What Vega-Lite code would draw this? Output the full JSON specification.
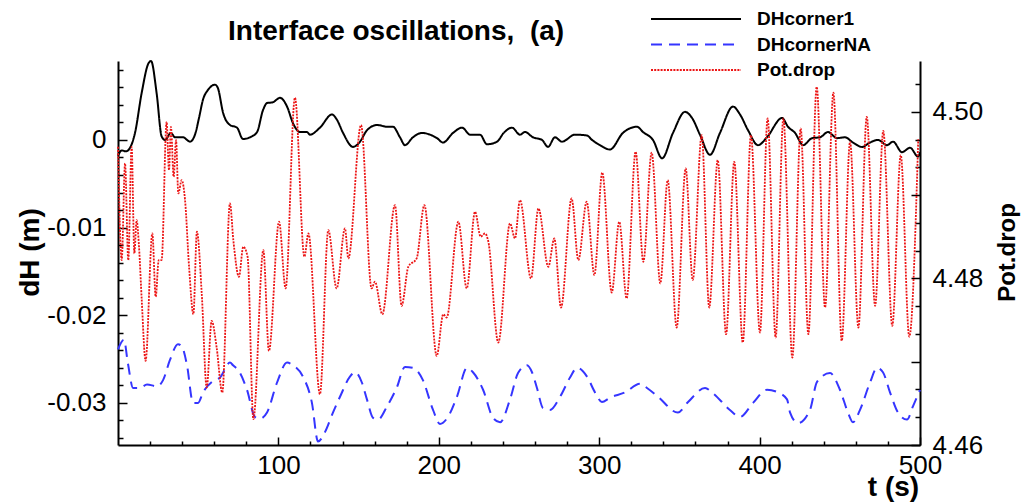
{
"$schema":"https://vega.github.io/schema/vega-lite/v6.json",
"width":802,"height":384,
"autosize":{"type":"none"},
"padding":{"left":118,"top":61,"right":101,"bottom":57},
"background":"white",
"title":{"text":"Interface oscillations, \u00a0(a)","anchor":"start","frame":"group","dx":110,"offset":-60,"fontSize":28,"font":"Liberation Sans","fontWeight":"bold","color":"#000","baseline":"alphabetic"},
"config":{"view":{"stroke":null},"axis":{"grid":false,"domainColor":"#000","domainWidth":2,"tickColor":"#000","tickWidth":1.5,"labelFont":"Liberation Sans","labelFontSize":26,"labelColor":"#000","titleFont":"Liberation Sans","titleFontWeight":"bold","titleColor":"#000","labelOverlap":false,"labelFlush":false}},
"data":{"values":[
{"s":"DHcorner1","t":0,"v":-0.0018},{"s":"DHcorner1","t":2.3,"v":-0.0012},{"s":"DHcorner1","t":5,"v":-0.0013},{"s":"DHcorner1","t":7.5,"v":-0.0009},{"s":"DHcorner1","t":10.6,"v":0.0008},{"s":"DHcorner1","t":14.8,"v":0.0054},{"s":"DHcorner1","t":18.9,"v":0.0087},{"s":"DHcorner1","t":20.6,"v":0.009},{"s":"DHcorner1","t":24.1,"v":0.0053},{"s":"DHcorner1","t":27.2,"v":0.0004},{"s":"DHcorner1","t":29.3,"v":0},
{"s":"DHcorner1","t":33,"v":0.0008},{"s":"DHcorner1","t":35.5,"v":0.0003},{"s":"DHcorner1","t":40.5,"v":0.0003},{"s":"DHcorner1","t":44.9,"v":-0.0002},{"s":"DHcorner1","t":48,"v":0.0006},{"s":"DHcorner1","t":50.5,"v":0.0025},{"s":"DHcorner1","t":53,"v":0.0046},{"s":"DHcorner1","t":56.1,"v":0.0057},{"s":"DHcorner1","t":60.5,"v":0.0063},{"s":"DHcorner1","t":62.3,"v":0.0059},{"s":"DHcorner1","t":65.5,"v":0.0031},{"s":"DHcorner1","t":69.8,"v":0.0017},{"s":"DHcorner1","t":74.2,"v":0.0014},{"s":"DHcorner1","t":77.9,"v":0.0001},{"s":"DHcorner1","t":82.3,"v":0.0003},{"s":"DHcorner1","t":86.7,"v":0.0009},{"s":"DHcorner1","t":90.4,"v":0.0034},{"s":"DHcorner1","t":92.9,"v":0.0042},{"s":"DHcorner1","t":96.6,"v":0.0043},{"s":"DHcorner1","t":101,"v":0.0048},{"s":"DHcorner1","t":105.4,"v":0.0038},{"s":"DHcorner1","t":109.1,"v":0.0019},{"s":"DHcorner1","t":113.5,"v":0.0009},{"s":"DHcorner1","t":117.8,"v":0.0009},{"s":"DHcorner1","t":119.7,"v":0.0006},{"s":"DHcorner1","t":125.9,"v":0.0014},{"s":"DHcorner1","t":133.4,"v":0.0029},{"s":"DHcorner1","t":136.5,"v":0.0023},{"s":"DHcorner1","t":140.3,"v":0.0008},{"s":"DHcorner1","t":146.5,"v":-0.0008},{"s":"DHcorner1","t":150.9,"v":-0.0002},{"s":"DHcorner1","t":155.2,"v":0.0011},{"s":"DHcorner1","t":161.5,"v":0.0017},{"s":"DHcorner1","t":167.7,"v":0.0015},{"s":"DHcorner1","t":171.4,"v":0.0015},{"s":"DHcorner1","t":175.8,"v":0.0003},{"s":"DHcorner1","t":178.9,"v":-0.0006},{"s":"DHcorner1","t":183.9,"v":0.0003},{"s":"DHcorner1","t":189.5,"v":0.0008},{"s":"DHcorner1","t":194.5,"v":0.0006},{"s":"DHcorner1","t":198.9,"v":0.0002},{"s":"DHcorner1","t":202.6,"v":-0.0003},{"s":"DHcorner1","t":208.9,"v":0.0008},{"s":"DHcorner1","t":214.5,"v":0.0014},{"s":"DHcorner1","t":219.5,"v":0.0006},{"s":"DHcorner1","t":225.7,"v":0.0006},{"s":"DHcorner1","t":230,"v":-0.0005},{"s":"DHcorner1","t":236.3,"v":-0.0002},{"s":"DHcorner1","t":240.5,"v":0.0008},{"s":"DHcorner1","t":245.6,"v":0.0014},{"s":"DHcorner1","t":250.6,"v":0.0006},{"s":"DHcorner1","t":253.7,"v":0.0009},{"s":"DHcorner1","t":258.7,"v":0.0003},{"s":"DHcorner1","t":264.3,"v":0},{"s":"DHcorner1","t":268.1,"v":-0.0008},{"s":"DHcorner1","t":272.4,"v":0.0003},{"s":"DHcorner1","t":276.8,"v":-0.0002},{"s":"DHcorner1","t":284.9,"v":0.0006},{"s":"DHcorner1","t":292.4,"v":0.0005},{"s":"DHcorner1","t":295.5,"v":0},{"s":"DHcorner1","t":300.5,"v":-0.0006},{"s":"DHcorner1","t":306.7,"v":-0.0011},{"s":"DHcorner1","t":314.8,"v":0.0008},{"s":"DHcorner1","t":323.6,"v":0.0015},{"s":"DHcorner1","t":327.3,"v":0.0009},{"s":"DHcorner1","t":333.5,"v":0},{"s":"DHcorner1","t":339.2,"v":-0.0021},{"s":"DHcorner1","t":346,"v":0.0008},{"s":"DHcorner1","t":353.5,"v":0.0032},{"s":"DHcorner1","t":357.9,"v":0.0025},{"s":"DHcorner1","t":362.8,"v":0.0006},{"s":"DHcorner1","t":369.1,"v":-0.0017},{"s":"DHcorner1","t":375.3,"v":0.0008},{"s":"DHcorner1","t":383.4,"v":0.0038},{"s":"DHcorner1","t":387.8,"v":0.0029},{"s":"DHcorner1","t":392.8,"v":0.0011},{"s":"DHcorner1","t":399,"v":-0.0006},{"s":"DHcorner1","t":404.6,"v":0.0003},{"s":"DHcorner1","t":414,"v":0.0025},{"s":"DHcorner1","t":417.7,"v":0.0015},{"s":"DHcorner1","t":422.1,"v":0.0008},{"s":"DHcorner1","t":427.1,"v":-0.0006},{"s":"DHcorner1","t":432.7,"v":0.0002},{"s":"DHcorner1","t":437.7,"v":0.0003},{"s":"DHcorner1","t":442.6,"v":0.0009},{"s":"DHcorner1","t":448.3,"v":0.0002},{"s":"DHcorner1","t":453.2,"v":0.0003},{"s":"DHcorner1","t":458.2,"v":-0.0003},{"s":"DHcorner1","t":463.8,"v":-0.0008},{"s":"DHcorner1","t":468.8,"v":-0.0003},{"s":"DHcorner1","t":473.8,"v":0},{"s":"DHcorner1","t":479.4,"v":-0.0006},{"s":"DHcorner1","t":483.2,"v":-0.0002},{"s":"DHcorner1","t":488.8,"v":-0.0014},{"s":"DHcorner1","t":493.8,"v":-0.0009},{"s":"DHcorner1","t":498.8,"v":-0.0019},{"s":"DHcorner1","t":500,"v":-0.0014},
{"s":"DHcornerNA","t":0,"v":-0.0239},{"s":"DHcornerNA","t":3.7,"v":-0.0228},{"s":"DHcornerNA","t":6.2,"v":-0.0255},{"s":"DHcornerNA","t":9.4,"v":-0.0283},{"s":"DHcornerNA","t":13.7,"v":-0.0283},{"s":"DHcornerNA","t":18.1,"v":-0.0279},{"s":"DHcornerNA","t":24.3,"v":-0.0281},{"s":"DHcornerNA","t":28.1,"v":-0.0274},{"s":"DHcornerNA","t":32.4,"v":-0.0251},{"s":"DHcornerNA","t":37.4,"v":-0.0233},{"s":"DHcornerNA","t":39.9,"v":-0.0236},{"s":"DHcornerNA","t":43,"v":-0.0257},{"s":"DHcornerNA","t":46.8,"v":-0.03},{"s":"DHcornerNA","t":49.9,"v":-0.03},{"s":"DHcornerNA","t":53,"v":-0.0288},{"s":"DHcornerNA","t":58.6,"v":-0.0276},{"s":"DHcornerNA","t":63.6,"v":-0.0271},{"s":"DHcornerNA","t":69.8,"v":-0.0254},{"s":"DHcornerNA","t":71.7,"v":-0.0257},{"s":"DHcornerNA","t":76.1,"v":-0.0266},{"s":"DHcornerNA","t":80.4,"v":-0.0285},{"s":"DHcornerNA","t":85.4,"v":-0.0316},{"s":"DHcornerNA","t":88.5,"v":-0.0318},{"s":"DHcornerNA","t":92.9,"v":-0.0311},{"s":"DHcornerNA","t":99.1,"v":-0.0277},{"s":"DHcornerNA","t":105.4,"v":-0.0254},{"s":"DHcornerNA","t":109.1,"v":-0.0257},{"s":"DHcornerNA","t":115.3,"v":-0.027},{"s":"DHcornerNA","t":120.9,"v":-0.03},{"s":"DHcornerNA","t":124.7,"v":-0.0344},{"s":"DHcornerNA","t":129.1,"v":-0.0333},{"s":"DHcornerNA","t":134,"v":-0.0311},{"s":"DHcornerNA","t":138.4,"v":-0.0293},{"s":"DHcornerNA","t":144.6,"v":-0.027},{"s":"DHcornerNA","t":147.8,"v":-0.0265},{"s":"DHcornerNA","t":152.1,"v":-0.0277},{"s":"DHcornerNA","t":155.2,"v":-0.0296},{"s":"DHcornerNA","t":159,"v":-0.0317},{"s":"DHcornerNA","t":162.1,"v":-0.0319},{"s":"DHcornerNA","t":167.7,"v":-0.0304},{"s":"DHcornerNA","t":173.9,"v":-0.0282},{"s":"DHcornerNA","t":178.9,"v":-0.0259},{"s":"DHcornerNA","t":183.9,"v":-0.026},{"s":"DHcornerNA","t":190.1,"v":-0.0274},{"s":"DHcornerNA","t":196.4,"v":-0.0308},{"s":"DHcornerNA","t":200.7,"v":-0.0324},{"s":"DHcornerNA","t":205.7,"v":-0.0316},{"s":"DHcornerNA","t":211.3,"v":-0.0293},{"s":"DHcornerNA","t":217.6,"v":-0.026},{"s":"DHcornerNA","t":221.3,"v":-0.0265},{"s":"DHcornerNA","t":227.6,"v":-0.0285},{"s":"DHcornerNA","t":233.8,"v":-0.0317},{"s":"DHcornerNA","t":238.2,"v":-0.0322},{"s":"DHcornerNA","t":244.4,"v":-0.0296},{"s":"DHcornerNA","t":249.4,"v":-0.0266},{"s":"DHcornerNA","t":255,"v":-0.0257},{"s":"DHcornerNA","t":258.1,"v":-0.0265},{"s":"DHcornerNA","t":261.2,"v":-0.0283},{"s":"DHcornerNA","t":265,"v":-0.0306},{"s":"DHcornerNA","t":269.3,"v":-0.0308},{"s":"DHcornerNA","t":275.6,"v":-0.0293},{"s":"DHcornerNA","t":281.8,"v":-0.0271},{"s":"DHcornerNA","t":286.2,"v":-0.026},{"s":"DHcornerNA","t":292.4,"v":-0.027},{"s":"DHcornerNA","t":297.4,"v":-0.0288},{"s":"DHcornerNA","t":301.7,"v":-0.0299},{"s":"DHcornerNA","t":306.7,"v":-0.0294},{"s":"DHcornerNA","t":316.1,"v":-0.0288},{"s":"DHcornerNA","t":325.4,"v":-0.0278},{"s":"DHcornerNA","t":329.8,"v":-0.0283},{"s":"DHcornerNA","t":336.7,"v":-0.0293},{"s":"DHcornerNA","t":349.1,"v":-0.0311},{"s":"DHcornerNA","t":355.4,"v":-0.0299},{"s":"DHcornerNA","t":366,"v":-0.0283},{"s":"DHcornerNA","t":370.3,"v":-0.0288},{"s":"DHcornerNA","t":381.5,"v":-0.0308},{"s":"DHcornerNA","t":387.8,"v":-0.0316},{"s":"DHcornerNA","t":395.9,"v":-0.03},{"s":"DHcornerNA","t":404.6,"v":-0.0285},{"s":"DHcornerNA","t":411.5,"v":-0.0288},{"s":"DHcornerNA","t":417.1,"v":-0.0296},{"s":"DHcornerNA","t":419,"v":-0.0311},{"s":"DHcornerNA","t":423.9,"v":-0.0323},{"s":"DHcornerNA","t":431.4,"v":-0.0308},{"s":"DHcornerNA","t":435.8,"v":-0.0276},{"s":"DHcornerNA","t":443.9,"v":-0.0266},{"s":"DHcornerNA","t":450.1,"v":-0.0285},{"s":"DHcornerNA","t":455.1,"v":-0.0311},{"s":"DHcornerNA","t":458.2,"v":-0.0322},{"s":"DHcornerNA","t":462.6,"v":-0.0308},{"s":"DHcornerNA","t":468.8,"v":-0.0277},{"s":"DHcornerNA","t":473.2,"v":-0.026},{"s":"DHcornerNA","t":476.9,"v":-0.0265},{"s":"DHcornerNA","t":481.3,"v":-0.0288},{"s":"DHcornerNA","t":486.3,"v":-0.0311},{"s":"DHcornerNA","t":491.9,"v":-0.0319},{"s":"DHcornerNA","t":495.6,"v":-0.0304},{"s":"DHcornerNA","t":500,"v":-0.0285},
{"s":"Pot.drop","t":0,"v":4.4958},{"s":"Pot.drop","t":2.3,"v":4.4822},{"s":"Pot.drop","t":4.4,"v":4.4938},{"s":"Pot.drop","t":6.4,"v":4.4822},{"s":"Pot.drop","t":8.5,"v":4.4958},{"s":"Pot.drop","t":10.2,"v":4.483},{"s":"Pot.drop","t":11.6,"v":4.487},{"s":"Pot.drop","t":13.1,"v":4.4838},{"s":"Pot.drop","t":14.8,"v":4.4774},{"s":"Pot.drop","t":17.2,"v":4.4701},{"s":"Pot.drop","t":21.4,"v":4.4854},{"s":"Pot.drop","t":23.5,"v":4.4778},{"s":"Pot.drop","t":25.4,"v":4.4822},{"s":"Pot.drop","t":27.2,"v":4.4822},{"s":"Pot.drop","t":30.3,"v":4.4988},{"s":"Pot.drop","t":31.8,"v":4.493},{"s":"Pot.drop","t":33,"v":4.4982},{"s":"Pot.drop","t":34.7,"v":4.4922},{"s":"Pot.drop","t":36.2,"v":4.4966},{"s":"Pot.drop","t":37.6,"v":4.4902},{"s":"Pot.drop","t":39.7,"v":4.4918},{"s":"Pot.drop","t":41.8,"v":4.4894},{"s":"Pot.drop","t":44.3,"v":4.4814},{"s":"Pot.drop","t":47,"v":4.4757},{"s":"Pot.drop","t":49.2,"v":4.4856},{"s":"Pot.drop","t":52.2,"v":4.4782},{"s":"Pot.drop","t":55.3,"v":4.4669},{"s":"Pot.drop","t":58.4,"v":4.4749},{"s":"Pot.drop","t":61.5,"v":4.4717},{"s":"Pot.drop","t":65,"v":4.4663},{"s":"Pot.drop","t":69.8,"v":4.489},{"s":"Pot.drop","t":71.9,"v":4.4846},{"s":"Pot.drop","t":75.4,"v":4.4802},{"s":"Pot.drop","t":78.1,"v":4.4838},{"s":"Pot.drop","t":80.8,"v":4.4826},{"s":"Pot.drop","t":84.4,"v":4.4631},{"s":"Pot.drop","t":90.6,"v":4.4834},{"s":"Pot.drop","t":94.1,"v":4.4713},{"s":"Pot.drop","t":100.4,"v":4.4868},{"s":"Pot.drop","t":104.5,"v":4.4788},{"s":"Pot.drop","t":110.3,"v":4.5017},{"s":"Pot.drop","t":116.2,"v":4.4826},{"s":"Pot.drop","t":118.7,"v":4.4854},{"s":"Pot.drop","t":125.9,"v":4.4661},{"s":"Pot.drop","t":131.1,"v":4.4858},{"s":"Pot.drop","t":136.3,"v":4.4788},{"s":"Pot.drop","t":141.5,"v":4.486},{"s":"Pot.drop","t":143.6,"v":4.4824},{"s":"Pot.drop","t":151.5,"v":4.4984},{"s":"Pot.drop","t":158.1,"v":4.4788},{"s":"Pot.drop","t":160.2,"v":4.4796},{"s":"Pot.drop","t":164.8,"v":4.4757},{"s":"Pot.drop","t":172.7,"v":4.4888},{"s":"Pot.drop","t":176.8,"v":4.4767},{"s":"Pot.drop","t":181,"v":4.4814},{"s":"Pot.drop","t":186.2,"v":4.4824},{"s":"Pot.drop","t":191,"v":4.4888},{"s":"Pot.drop","t":198.7,"v":4.4707},{"s":"Pot.drop","t":202.8,"v":4.4757},{"s":"Pot.drop","t":204.9,"v":4.4753},{"s":"Pot.drop","t":212.2,"v":4.4868},{"s":"Pot.drop","t":217.4,"v":4.4788},{"s":"Pot.drop","t":222.6,"v":4.488},{"s":"Pot.drop","t":226.1,"v":4.485},{"s":"Pot.drop","t":228.8,"v":4.4854},{"s":"Pot.drop","t":230.9,"v":4.4844},{"s":"Pot.drop","t":237.1,"v":4.4723},{"s":"Pot.drop","t":244.4,"v":4.4866},{"s":"Pot.drop","t":247.5,"v":4.4848},{"s":"Pot.drop","t":250.6,"v":4.4894},{"s":"Pot.drop","t":257.5,"v":4.48},{"s":"Pot.drop","t":262.1,"v":4.4884},{"s":"Pot.drop","t":268.3,"v":4.4814},{"s":"Pot.drop","t":272,"v":4.4848},{"s":"Pot.drop","t":276.2,"v":4.4765},{"s":"Pot.drop","t":282.8,"v":4.4896},{"s":"Pot.drop","t":287,"v":4.4822},{"s":"Pot.drop","t":292.2,"v":4.4892},{"s":"Pot.drop","t":297,"v":4.4804},{"s":"Pot.drop","t":301.9,"v":4.4927},{"s":"Pot.drop","t":307.8,"v":4.4783},{"s":"Pot.drop","t":312.5,"v":4.4868},{"s":"Pot.drop","t":317.1,"v":4.4776},{"s":"Pot.drop","t":322.7,"v":4.4952},{"s":"Pot.drop","t":327.5,"v":4.482},{"s":"Pot.drop","t":332.7,"v":4.4951},{"s":"Pot.drop","t":338.1,"v":4.4794},{"s":"Pot.drop","t":342.7,"v":4.4918},{"s":"Pot.drop","t":348.3,"v":4.4741},{"s":"Pot.drop","t":353.9,"v":4.4932},{"s":"Pot.drop","t":358.3,"v":4.4798},{"s":"Pot.drop","t":363.9,"v":4.4972},{"s":"Pot.drop","t":368.6,"v":4.4765},{"s":"Pot.drop","t":373.9,"v":4.4942},{"s":"Pot.drop","t":379.1,"v":4.4733},{"s":"Pot.drop","t":384.2,"v":4.494},{"s":"Pot.drop","t":389.5,"v":4.4723},{"s":"Pot.drop","t":394.6,"v":4.4972},{"s":"Pot.drop","t":400.2,"v":4.4735},{"s":"Pot.drop","t":405,"v":4.4992},{"s":"Pot.drop","t":410,"v":4.4729},{"s":"Pot.drop","t":414.8,"v":4.4992},{"s":"Pot.drop","t":420.4,"v":4.4705},{"s":"Pot.drop","t":425.6,"v":4.498},{"s":"Pot.drop","t":430.4,"v":4.4733},{"s":"Pot.drop","t":435.6,"v":4.503},{"s":"Pot.drop","t":440.8,"v":4.4765},{"s":"Pot.drop","t":446,"v":4.5023},{"s":"Pot.drop","t":451.2,"v":4.4725},{"s":"Pot.drop","t":456.4,"v":4.4964},{"s":"Pot.drop","t":461.6,"v":4.4741},{"s":"Pot.drop","t":466.8,"v":4.4994},{"s":"Pot.drop","t":472,"v":4.4767},{"s":"Pot.drop","t":477.1,"v":4.4977},{"s":"Pot.drop","t":482.7,"v":4.4743},{"s":"Pot.drop","t":488,"v":4.4948},{"s":"Pot.drop","t":493.3,"v":4.473},{"s":"Pot.drop","t":498.9,"v":4.4967}
]},
"encoding":{
  "x":{"field":"t","type":"quantitative","scale":{"domain":[0,500],"nice":false,"zero":false},
   "axis":{"values":[20,40,60,80,100,120,140,160,180,200,220,240,260,280,300,320,340,360,380,400,420,440,460,480,500],
    "labelExpr":"datum.value % 100 === 0 ? format(datum.value, 'd') : ''",
    "tickSize":{"condition":{"test":"datum.value % 100 === 0","value":-8},"value":-4},
    "labelPadding":15,"title":"t (s)","titleFontSize":28,"titleX":775,"titleY":42,"titleAlign":"center","titleBaseline":"middle","titleAngle":0}},
  "color":{"field":"s","type":"nominal","scale":{"domain":["DHcorner1","DHcornerNA","Pot.drop"],"range":["#000000","#3535ff","#ec1515"]},
   "legend":{"orient":"none","legendX":567,"legendY":-53,"title":null,"symbolType":"M-4.5,0H4.5","symbolSize":400,"symbolStrokeWidth":2,"labelFont":"Liberation Sans","labelFontSize":19,"labelFontWeight":"bold","labelColor":"#000","labelOffset":50,"rowPadding":4.5,"padding":0,"labelLimit":300}},
  "strokeDash":{"field":"s","type":"nominal","scale":{"domain":["DHcorner1","DHcornerNA","Pot.drop"],"range":[[1,0],[11,7],[2,1.2]]}}
},
"layer":[
{"transform":[{"filter":"datum.s === 'DHcorner1'"}],
 "mark":{"type":"line","strokeWidth":2,"interpolate":"monotone"},
 "encoding":{
  "y":{"field":"v","type":"quantitative","scale":{"domain":[-0.0348,0.009],"nice":false,"zero":false},
   "axis":{"values":[-0.034,-0.032,-0.03,-0.028,-0.026,-0.024,-0.022,-0.02,-0.018,-0.016,-0.014,-0.012,-0.01,-0.008,-0.006,-0.004,-0.002,0,0.002,0.004,0.006,0.008],
    "labelExpr":"abs(datum.value*100 - round(datum.value*100)) < 0.001 ? (abs(datum.value) < 1e-9 ? '0' : (datum.value < 0 ? '-' : '') + format(abs(datum.value), '.2f')) : ''",
    "tickSize":{"condition":{"test":"abs(datum.value*100 - round(datum.value*100)) < 0.001","value":-9},"value":-5},
    "labelPadding":21,"title":"dH (m)","titleFontSize":28,"titleAngle":270,"titleX":-88,"titleY":191,"titleAlign":"center","titleBaseline":"middle"}}
 }},
{"transform":[{"filter":"datum.s === 'DHcornerNA'"}],
 "mark":{"type":"line","strokeWidth":2,"interpolate":"monotone"},
 "encoding":{
  "y":{"field":"v","type":"quantitative","scale":{"domain":[-0.0348,0.009],"nice":false,"zero":false},"axis":null}
 }},
{"transform":[{"filter":"datum.s === 'Pot.drop'"}],
 "mark":{"type":"line","strokeWidth":1.8,"interpolate":"monotone"},
 "encoding":{
  "y":{"field":"v","type":"quantitative","scale":{"domain":[4.46,4.5061],"nice":false,"zero":false},
   "axis":{"orient":"right","values":[4.46,4.463333,4.466667,4.47,4.473333,4.476667,4.48,4.483333,4.486667,4.49,4.493333,4.496667,4.5,4.503333],
    "labelExpr":"abs(datum.value*50 - round(datum.value*50)) < 0.001 ? format(datum.value, '.2f') : ''",
    "tickSize":{"condition":{"test":"abs(datum.value*100 - round(datum.value*100)) < 0.001","value":-9},"value":-5},
    "labelPadding":21,"title":"Pot.drop","titleFontSize":24,"titleAngle":270,"titleX":87,"titleY":191,"titleAlign":"center","titleBaseline":"middle"}}
 }}
],
"resolve":{"scale":{"y":"independent"}}
}
